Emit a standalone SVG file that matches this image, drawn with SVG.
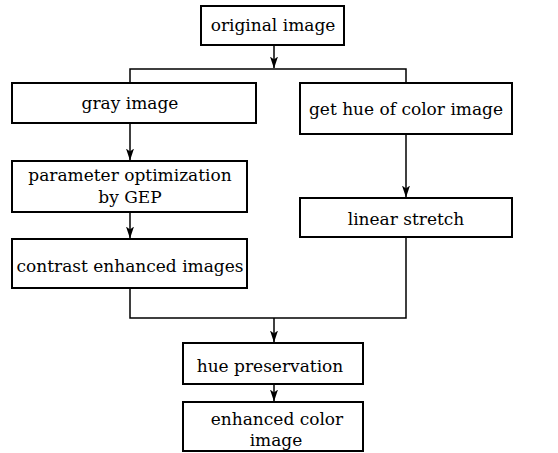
<svg xmlns="http://www.w3.org/2000/svg" width="558" height="453" viewBox="0 0 558 453">
<defs>
<marker id="ah" markerWidth="12" markerHeight="8" refX="11.5" refY="4" orient="auto" markerUnits="userSpaceOnUse" viewBox="0 0 12 8">
<path d="M0,0 L3,4 L0,8 L12,4 Z" fill="#000"/>
</marker>
</defs>
<style>
.box{fill:#fff;stroke:#000;stroke-width:2}
.t{font-family:"DejaVu Serif","Liberation Serif",serif;font-size:17px;fill:#000;text-anchor:middle}
.c{fill:none;stroke:#000;stroke-width:1.5}
</style>
<rect width="558" height="453" fill="#fff"/>
<g id="connectors">
<line class="c" x1="274" y1="45" x2="274" y2="68" marker-end="url(#ah)"/>
<polyline class="c" points="130,83 130,69 406,69 406,83"/>
<line class="c" x1="130" y1="123" x2="130" y2="160" marker-end="url(#ah)"/>
<line class="c" x1="406" y1="134" x2="406" y2="197" marker-end="url(#ah)"/>
<line class="c" x1="130" y1="212" x2="130" y2="238" marker-end="url(#ah)"/>
<polyline class="c" points="130,288 130,318 406,318 406,237"/>
<line class="c" x1="274" y1="318" x2="274" y2="342" marker-end="url(#ah)"/>
<line class="c" x1="274" y1="384" x2="274" y2="401" marker-end="url(#ah)"/>
</g>
<g id="original">
<rect class="box" x="201" y="6" width="143" height="39"/>
<text class="t" x="273" y="31">original image</text>
</g>
<g id="gray">
<rect class="box" x="12" y="83" width="244" height="40"/>
<text class="t" x="130" y="109">gray image</text>
</g>
<g id="hue">
<rect class="box" x="300" y="83" width="212" height="51"/>
<text class="t" x="406" y="115">get hue of color image</text>
</g>
<g id="param">
<rect class="box" x="12" y="161" width="235" height="51"/>
<text class="t" x="130" y="181">parameter optimization</text>
<text class="t" x="130" y="203">by GEP</text>
</g>
<g id="linear">
<rect class="box" x="300" y="198" width="212" height="39"/>
<text class="t" x="406" y="225">linear stretch</text>
</g>
<g id="contrast">
<rect class="box" x="12" y="239" width="235" height="49"/>
<text class="t" x="130" y="272">contrast enhanced images</text>
</g>
<g id="huepres">
<rect class="box" x="183" y="343" width="180" height="41"/>
<text class="t" x="270" y="372">hue preservation</text>
</g>
<g id="enhanced">
<rect class="box" x="183" y="402" width="180" height="49"/>
<text class="t" x="277" y="425">enhanced color</text>
<text class="t" x="276" y="446">image</text>
</g>
</svg>
